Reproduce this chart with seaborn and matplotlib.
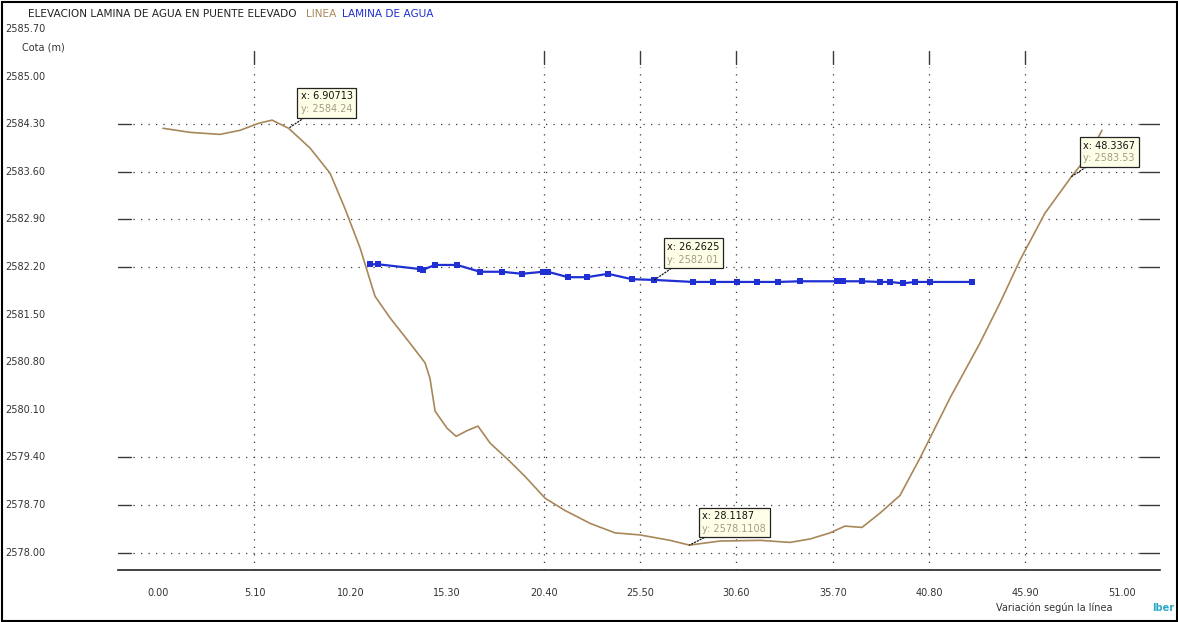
import matplotlib
matplotlib.use("Agg")
import matplotlib.pyplot as plt
import matplotlib.transforms as mtransforms
from matplotlib.patches import Rectangle
from matplotlib.offsetbox import TextArea, VPacker, AnnotationBbox
import pandas as pd
import seaborn as sns

# Terrain profile along the section line (station m, elevation m)
terrain_x = [0.26, 1.69, 3.28, 4.34, 5.29, 6.03, 6.90713, 8.04, 9.10, 9.89, 10.69, 11.48,
             12.28, 13.33, 14.13, 14.39, 14.66, 15.29, 15.77, 16.40, 16.93, 17.57, 18.62,
             19.42, 20.48, 21.53, 22.86, 24.18, 25.50, 27.09, 28.1187, 29.74, 31.85, 33.44,
             34.50, 35.56, 36.35, 37.25, 38.20, 39.26, 40.32, 41.90, 43.49, 44.55, 45.61,
             46.93, 48.3367, 49.31, 49.95]
terrain_y = [2584.24, 2584.18, 2584.15, 2584.21, 2584.31, 2584.36, 2584.24, 2583.95, 2583.58,
             2583.06, 2582.48, 2581.77, 2581.45, 2581.08, 2580.79, 2580.56, 2580.08, 2579.83,
             2579.71, 2579.80, 2579.86, 2579.61, 2579.34, 2579.12, 2578.80, 2578.62, 2578.43,
             2578.29, 2578.26, 2578.18, 2578.11, 2578.17, 2578.18, 2578.15, 2578.20, 2578.29,
             2578.39, 2578.37, 2578.58, 2578.84, 2579.39, 2580.27, 2581.08, 2581.67, 2582.30,
             2582.99, 2583.53, 2583.87, 2584.21]

# Water surface elevation
water_x = [11.22, 11.64, 13.86, 14.02, 14.66, 15.82, 17.04, 18.20, 19.26, 20.37, 20.63, 21.69,
           22.70, 23.81, 25.08, 26.2625, 28.31, 29.37, 30.63, 31.69, 32.80, 33.97, 35.93,
           36.24, 37.25, 38.20, 38.73, 39.42, 40.05, 40.85, 43.07]
water_y = [2582.24, 2582.24, 2582.17, 2582.16, 2582.23, 2582.23, 2582.13, 2582.13, 2582.10,
           2582.13, 2582.13, 2582.05, 2582.05, 2582.10, 2582.02, 2582.01, 2581.98, 2581.98,
           2581.98, 2581.98, 2581.98, 2581.99, 2581.99, 2581.99, 2581.99, 2581.98, 2581.98,
           2581.96, 2581.98, 2581.98, 2581.98]

x_ticks = [0.00, 5.10, 10.20, 15.30, 20.40, 25.50, 30.60, 35.70, 40.80, 45.90, 51.00]
x_tick_labels = ["0.00", "5.10", "10.20", "15.30", "20.40", "25.50", "30.60", "35.70",
                 "40.80", "45.90", "51.00"]
y_ticks = [2578.00, 2578.70, 2579.40, 2580.10, 2580.80, 2581.50, 2582.20, 2582.90,
           2583.60, 2584.30, 2585.00, 2585.70]
y_tick_labels = ["2578.00", "2578.70", "2579.40", "2580.10", "2580.80", "2581.50",
                 "2582.20", "2582.90", "2583.60", "2584.30", "2585.00", "2585.70"]
grid_x = [5.10, 20.40, 25.50, 30.60, 35.70, 40.80, 45.90]
grid_y = [2578.00, 2578.70, 2579.40, 2582.20, 2582.90, 2583.60, 2584.30]

# Point callouts: (x, y, x text, y text, offset in px)
callouts = [
    (6.90713, 2584.24, "6.90713", "2584.24", (12, 37)),
    (26.2625, 2582.01, "26.2625", "2582.01", (13, 38)),
    (28.1187, 2578.11, "28.1187", "2578.1108", (13, 34)),
    (48.3367, 2583.53, "48.3367", "2583.53", (12, 36)),
]

BROWN = "#A8875A"
BLUE = "#1F2FD2"
GRID = "#3a3a3a"

sns.set_style("white")
plt.rcParams["font.family"] = ["DejaVu Sans"]

W, H = 1178, 622
fig = plt.figure(figsize=(W / 100, H / 100), dpi=100)
ax = fig.add_axes([118 / W, 1 - 570 / H, (1160 - 118) / W, (570 - 29) / H])

ax.set_xlim(-2.12, 53.02)
ax.set_ylim(2577.744, 2585.70)

# Dotted grid with short solid ends
dot = (0, (1, 5))
for gx in grid_x:
    ax.axvline(gx, ymin=0.0, ymax=0.93, ls=dot, color=GRID, lw=0.9)
    ax.axvline(gx, ymin=0.935, ymax=0.96, color=GRID, lw=1.0)
for gy in grid_y:
    ax.axhline(gy, xmin=0.014, xmax=0.981, ls=dot, color=GRID, lw=0.9)
    ax.axhline(gy, xmin=0.0, xmax=0.012, color=GRID, lw=1.0)
    ax.axhline(gy, xmin=0.981, xmax=1.0, color=GRID, lw=1.0)

terrain = pd.DataFrame({"Estacion": terrain_x, "Cota": terrain_y})
water = pd.DataFrame({"Estacion": water_x, "Cota": water_y})

sns.lineplot(data=terrain, x="Estacion", y="Cota", sort=False, estimator=None,
             color=BROWN, lw=1.2, ax=ax)
sns.lineplot(data=water, x="Estacion", y="Cota", sort=False, estimator=None,
             color=BLUE, lw=1.6, marker="s", markersize=4.5, markeredgewidth=0, ax=ax)

for side in ["top", "right", "left"]:
    ax.spines[side].set_visible(False)
ax.spines["bottom"].set_color("#222")
ax.spines["bottom"].set_linewidth(1.2)

ax.set_xticks(x_ticks)
ax.set_xticklabels(x_tick_labels, fontsize=7, color="#333")
ax.set_xticks(grid_x, minor=True)
ax.tick_params(axis="x", which="major", length=0, pad=13)
ax.tick_params(axis="x", which="minor", length=7, width=1.0, color="#222", direction="out")
ax.set_yticks([])
ax.set_xlabel("")
ax.set_ylabel("")

# Elevation labels along the left edge of the figure
ytrans = mtransforms.blended_transform_factory(fig.transFigure, ax.transData)
for yv, lab in zip(y_ticks, y_tick_labels):
    ax.text(5 / W, yv, lab, transform=ytrans, ha="left", va="center", fontsize=7,
            color="#333", clip_on=False)
fig.text(22 / W, 1 - 47 / H, "Cota (m)", ha="left", va="center", fontsize=7, color="#333")

# Callouts: x line dark, y line muted, on a pale box with dotted leader
for cx, cy, xs, ys, off in callouts:
    content = VPacker(children=[
        TextArea(f"x: {xs}", textprops=dict(fontsize=7, color="#111")),
        TextArea(f"y: {ys}", textprops=dict(fontsize=7, color="#a0a088")),
    ], align="left", pad=0, sep=2)
    ab = AnnotationBbox(content, (cx, cy), xybox=off, xycoords="data",
                        boxcoords="offset pixels", box_alignment=(0, 1), pad=0.25,
                        bboxprops=dict(boxstyle="square,pad=0.25", fc="#FFFFE8", ec="#222",
                                       lw=0.9),
                        arrowprops=dict(arrowstyle="-", ls=(0, (1, 1.5)), color="#111",
                                        lw=0.9, shrinkA=0, shrinkB=0))
    ax.add_artist(ab)

# Header and legend text
fig.text(28 / W, 1 - 14 / H, "ELEVACION LAMINA DE AGUA EN PUENTE ELEVADO", ha="left",
         va="center", fontsize=7.6, color="#222")
fig.text(306 / W, 1 - 14 / H, "LINEA", ha="left", va="center", fontsize=7.6, color=BROWN)
fig.text(342 / W, 1 - 14 / H, "LAMINA DE AGUA", ha="left", va="center", fontsize=7.6,
         color=BLUE)

fig.text(1112 / W, 1 - 608 / H, "Variación según la línea", ha="right", va="center",
         fontsize=7, color="#333")
fig.text(1152 / W, 1 - 608 / H, "Iber", ha="left", va="center", fontsize=7,
         fontweight="bold", color="#2AA8C8")

fig.add_artist(Rectangle((1.5 / W, 1.5 / H), 1 - 3 / W, 1 - 3 / H, transform=fig.transFigure,
                         fill=False, ec="black", lw=1.5))

fig.savefig("out.png", dpi=100)
